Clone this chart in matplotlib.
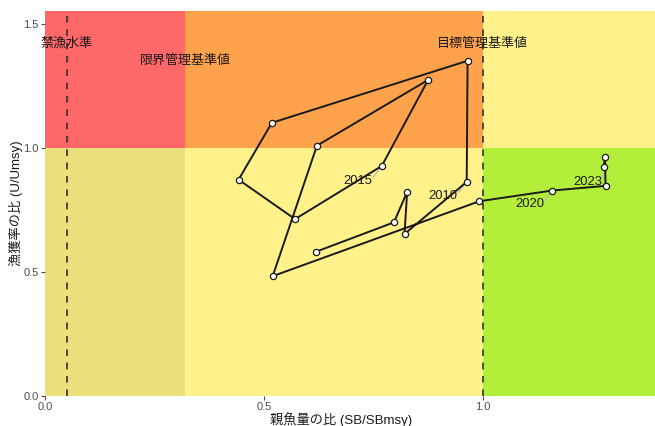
import matplotlib
matplotlib.use("Agg")
import matplotlib.pyplot as plt

plt.rcParams['font.family'] = ['Liberation Sans', 'Noto Sans CJK JP', 'DejaVu Sans']

# Kobe plot data (SB/SBmsy, U/Umsy) by year
years = [2006, 2007, 2008, 2009, 2010, 2011, 2012, 2013, 2014,
         2015, 2016, 2017, 2018, 2019, 2020, 2021, 2022, 2023]
sb_ratio = [0.618, 0.797, 0.827, 0.821, 0.963, 0.965, 0.518, 0.442, 0.571,
            0.769, 0.875, 0.621, 0.520, 0.992, 1.158, 1.280, 1.279, 1.276]
u_ratio = [0.581, 0.700, 0.823, 0.653, 0.863, 1.351, 1.101, 0.872, 0.713,
           0.927, 1.274, 1.009, 0.483, 0.785, 0.828, 0.847, 0.965, 0.922]

labeled_years = [2010, 2015, 2020, 2023]
label_pos = {2010: (0.909, 0.806), 2015: (0.715, 0.867),
             2020: (1.107, 0.774), 2023: (1.240, 0.863)}

ban_level = 0.05
limit_level = 0.32
target_level = 1.0
xmax, ymax = 1.393, 1.552

fig = plt.figure(figsize=(6.55, 4.26), dpi=100)
ax = fig.add_axes([0.0687, 0.0704, 0.9313, 0.904])

# zones
ax.axvspan(0, limit_level, ymin=0, ymax=1.0 / ymax, color='#ECE07C', lw=0)
ax.axvspan(limit_level, target_level, ymin=0, ymax=1.0 / ymax, color='#FFF28A', lw=0)
ax.axvspan(target_level, xmax, ymin=0, ymax=1.0 / ymax, color='#B3EE3A', lw=0)
ax.axvspan(0, limit_level, ymin=1.0 / ymax, ymax=1, color='#FF6868', lw=0)
ax.axvspan(limit_level, target_level, ymin=1.0 / ymax, ymax=1, color='#FFA24C', lw=0)
ax.axvspan(target_level, xmax, ymin=1.0 / ymax, ymax=1, color='#FFF28A', lw=0)

ax.axvline(ban_level, color='#333333', ls=(0, (4, 4)), lw=1.2)
ax.axvline(target_level, color='#333333', ls=(0, (4, 4)), lw=1.2)

ax.text(ban_level, 1.42, '禁漁水準', ha='center', va='center', fontsize=9.4, color='#1a1a1a')
ax.text(limit_level, 1.351, '限界管理基準値', ha='center', va='center', fontsize=9.4, color='#1a1a1a')
ax.text(target_level, 1.42, '目標管理基準値', ha='center', va='center', fontsize=9.4, color='#1a1a1a')

ax.plot(sb_ratio, u_ratio, color='#1a1a1a', lw=1.4, zorder=3)
ax.plot(sb_ratio, u_ratio, 'o', ms=4.5, mfc='white', mec='#1a1a1a', mew=0.9, zorder=4)

for yr in labeled_years:
    i = years.index(yr)
    lx, ly = label_pos[yr]
    ax.plot([sb_ratio[i], lx + 0.035], [u_ratio[i], ly + 0.015], color='#BBBBBB', lw=1, zorder=2)
    ax.text(lx, ly, str(yr), ha='center', va='center', fontsize=9.4, color='#1a1a1a', zorder=5)

ax.set_xlim(0, xmax)
ax.set_ylim(0, ymax)
ax.set_xticks([0.0, 0.5, 1.0])
ax.set_yticks([0.0, 0.5, 1.0, 1.5])
ax.set_xticklabels(['0.0', '0.5', '1.0'])
ax.set_yticklabels(['0.0', '0.5', '1.0', '1.5'])
ax.tick_params(colors='#4D4D4D', labelsize=8, length=3, width=0.8, pad=1.5)
for s in ax.spines.values():
    s.set_visible(False)

ax.set_xlabel('親魚量の比 (SB/SBmsy)', fontsize=9.5, color='#1a1a1a')
ax.set_ylabel('漁獲率の比 (U/Umsy)', fontsize=9.5, color='#1a1a1a')
ax.xaxis.set_label_coords(0.485, -0.041)
ax.yaxis.set_label_coords(-0.036, 0.5)

fig.savefig('out.png', dpi=100)
